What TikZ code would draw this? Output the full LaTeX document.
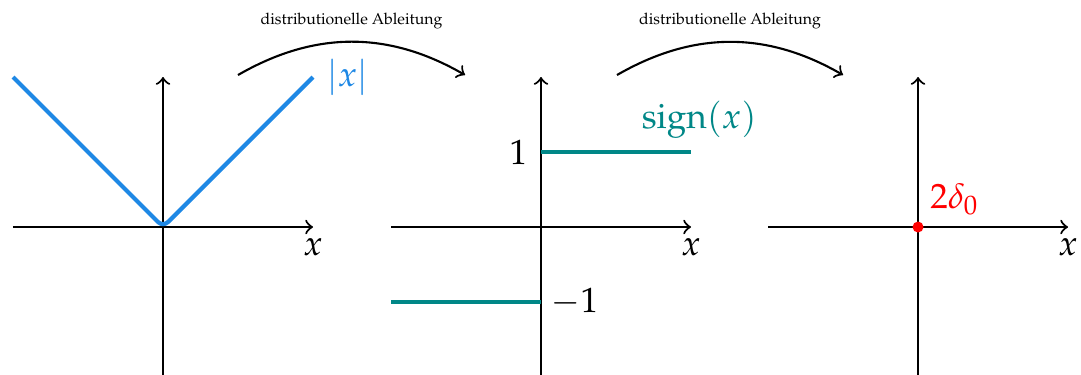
\documentclass[tikz,border=0pt]{standalone}
\usepackage{amsmath}
\usepackage{amssymb}
\usepackage[T1]{fontenc}
\usepackage{mathpazo}
\usepackage{xcolor}
\usepackage{tikz}
\usetikzlibrary{calc}
\definecolor{absblue}{RGB}{30,136,229}
\definecolor{signteal}{RGB}{0,135,135}
\tikzset{
    achse/.style={semithick, ->},
    graph/.style={very thick, line join=round},
    ableitung/.style={semithick, ->, bend left=30},
    beschriftung/.style={font=\fontsize{9pt}{10pt}\selectfont, scale=0.5, above=3.5pt},
}

\begin{document}
\begin{tikzpicture}
        \useasboundingbox (-1.63,-1.47) rectangle (9.18,2.27);
            \draw[achse] (-1.5,0) -- (1.5,0) node[below, inner sep=3pt] (x1) {$x$};
            \draw[achse] (0,-1.5) -- (0,1.5);
            \draw[graph, color=absblue, rounded corners=2pt] (-1.5,1.5) -- (0,0) -- (1.5,1.5) node[right] (absx) {$|x|$};
        \begin{scope}[shift={(3.78,0)}]
            \draw[achse] (-1.5,0) -- (1.5,0) node[below, inner sep=3pt] (x2) {$x$};
            \draw[achse] (0,-1.5) -- (0,1.5);
            \draw[graph, color=signteal] (0,0.75) node[left, black] (eins) {$1$} -- (1.5,0.75) node[above, xshift=2.3pt] (sgnx) {$\operatorname{sign}(x)$};
            \draw[graph, color=signteal] (-1.5,-0.75) -- (0,-0.75) node[right, black, xshift=-1pt] (meins) {$-1$};
        \end{scope}
        \begin{scope}[shift={(7.55,0)}]
            \draw[achse] (-1.5,0) -- (1.5,0) node[below, inner sep=3pt] (x3) {$x$};
            \draw[achse] (0,-1.5) -- (0,1.5);
            \fill[red] (0,0) circle (0.055);
            \node[red, above right] (delta) at (0,0) {$2\delta_0$};
        \end{scope}
        \coordinate (p1) at (0.75,1.52);
        \coordinate (p2) at (3.02,1.52);
        \coordinate (p3) at (4.54,1.52);
        \coordinate (p4) at (6.80,1.52);
        \draw[ableitung] (p1) to node[beschriftung] (l1) {distributionelle Ableitung} (p2);
        \draw[ableitung] (p3) to node[beschriftung] (l2) {distributionelle Ableitung} (p4);
    \end{tikzpicture}
\end{document}
